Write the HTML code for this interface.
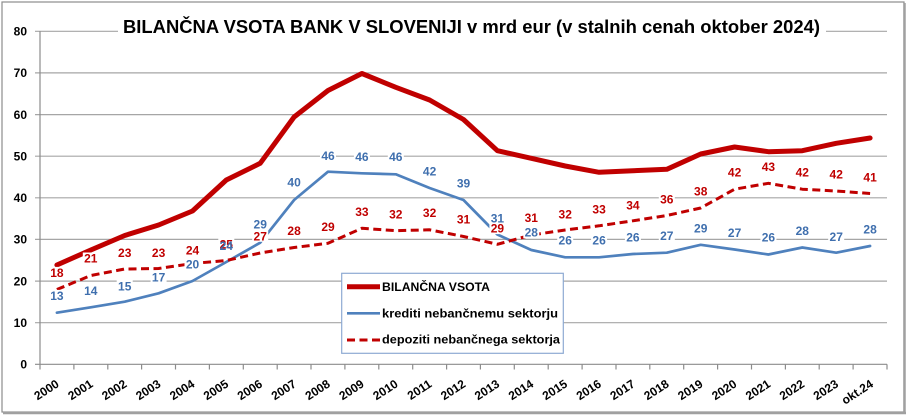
<!DOCTYPE html>
<html><head><meta charset="utf-8">
<style>
html,body{margin:0;padding:0;background:#fff;}
svg{display:block;}
text{font-family:"Liberation Sans",Arial,sans-serif;font-weight:bold;}
</style></head>
<body>
<svg width="908" height="418" viewBox="0 0 908 418" xmlns="http://www.w3.org/2000/svg">
<rect x="0" y="0" width="908" height="418" fill="#fff"/>
<!-- frame -->
<rect x="2" y="2" width="902" height="410" fill="#fff" stroke="#8c8c8c" stroke-width="1.2"/>
<line x1="904.5" y1="3" x2="904.5" y2="414" stroke="#a0a0a0" stroke-width="2.5"/>
<line x1="3" y1="413" x2="906" y2="413" stroke="#a0a0a0" stroke-width="2.5"/>

<!-- gridlines -->
<g stroke="#a6a6a6" stroke-width="1.2">
<line x1="35" y1="31.3" x2="887" y2="31.3"/>
<line x1="35" y1="72.9" x2="887" y2="72.9"/>
<line x1="35" y1="114.6" x2="887" y2="114.6"/>
<line x1="35" y1="156.2" x2="887" y2="156.2"/>
<line x1="35" y1="197.8" x2="887" y2="197.8"/>
<line x1="35" y1="239.4" x2="887" y2="239.4"/>
<line x1="35" y1="281.1" x2="887" y2="281.1"/>
<line x1="35" y1="322.7" x2="887" y2="322.7"/>
</g>
<!-- axes -->
<g stroke="#8c8c8c" stroke-width="1.2">
<line x1="40" y1="31.3" x2="40" y2="364.3"/>
<line x1="35" y1="364.3" x2="887" y2="364.3"/>
<line x1="40" y1="364.3" x2="40" y2="369.5"/>
<line x1="73.9" y1="364.3" x2="73.9" y2="369.5"/>
<line x1="107.8" y1="364.3" x2="107.8" y2="369.5"/>
<line x1="141.6" y1="364.3" x2="141.6" y2="369.5"/>
<line x1="175.5" y1="364.3" x2="175.5" y2="369.5"/>
<line x1="209.4" y1="364.3" x2="209.4" y2="369.5"/>
<line x1="243.3" y1="364.3" x2="243.3" y2="369.5"/>
<line x1="277.2" y1="364.3" x2="277.2" y2="369.5"/>
<line x1="311" y1="364.3" x2="311" y2="369.5"/>
<line x1="344.9" y1="364.3" x2="344.9" y2="369.5"/>
<line x1="378.8" y1="364.3" x2="378.8" y2="369.5"/>
<line x1="412.7" y1="364.3" x2="412.7" y2="369.5"/>
<line x1="446.6" y1="364.3" x2="446.6" y2="369.5"/>
<line x1="480.4" y1="364.3" x2="480.4" y2="369.5"/>
<line x1="514.3" y1="364.3" x2="514.3" y2="369.5"/>
<line x1="548.2" y1="364.3" x2="548.2" y2="369.5"/>
<line x1="582.1" y1="364.3" x2="582.1" y2="369.5"/>
<line x1="616" y1="364.3" x2="616" y2="369.5"/>
<line x1="649.8" y1="364.3" x2="649.8" y2="369.5"/>
<line x1="683.7" y1="364.3" x2="683.7" y2="369.5"/>
<line x1="717.6" y1="364.3" x2="717.6" y2="369.5"/>
<line x1="751.5" y1="364.3" x2="751.5" y2="369.5"/>
<line x1="785.4" y1="364.3" x2="785.4" y2="369.5"/>
<line x1="819.2" y1="364.3" x2="819.2" y2="369.5"/>
<line x1="853.1" y1="364.3" x2="853.1" y2="369.5"/>
<line x1="887" y1="364.3" x2="887" y2="369.5"/>
</g>

<!-- y labels -->
<g font-size="12" fill="#000" text-anchor="end">
<text x="27" y="35.6">80</text>
<text x="27" y="77.2">70</text>
<text x="27" y="118.9">60</text>
<text x="27" y="160.5">50</text>
<text x="27" y="202.1">40</text>
<text x="27" y="243.7">30</text>
<text x="27" y="285.4">20</text>
<text x="27" y="327">10</text>
<text x="27" y="368.6">0</text>
</g>

<!-- x labels -->
<g font-size="12" fill="#000" text-anchor="end">
<text x="59.9" y="386" transform="rotate(-33 59.9 386)">2000</text>
<text x="93.8" y="386" transform="rotate(-33 93.8 386)">2001</text>
<text x="127.7" y="386" transform="rotate(-33 127.7 386)">2002</text>
<text x="161.6" y="386" transform="rotate(-33 161.6 386)">2003</text>
<text x="195.5" y="386" transform="rotate(-33 195.5 386)">2004</text>
<text x="229.3" y="386" transform="rotate(-33 229.3 386)">2005</text>
<text x="263.2" y="386" transform="rotate(-33 263.2 386)">2006</text>
<text x="297.1" y="386" transform="rotate(-33 297.1 386)">2007</text>
<text x="331" y="386" transform="rotate(-33 331 386)">2008</text>
<text x="364.9" y="386" transform="rotate(-33 364.9 386)">2009</text>
<text x="398.8" y="386" transform="rotate(-33 398.8 386)">2010</text>
<text x="432.6" y="386" transform="rotate(-33 432.6 386)">2011</text>
<text x="466.5" y="386" transform="rotate(-33 466.5 386)">2012</text>
<text x="500.4" y="386" transform="rotate(-33 500.4 386)">2013</text>
<text x="534.3" y="386" transform="rotate(-33 534.3 386)">2014</text>
<text x="568.2" y="386" transform="rotate(-33 568.2 386)">2015</text>
<text x="602.1" y="386" transform="rotate(-33 602.1 386)">2016</text>
<text x="635.9" y="386" transform="rotate(-33 635.9 386)">2017</text>
<text x="669.8" y="386" transform="rotate(-33 669.8 386)">2018</text>
<text x="703.7" y="386" transform="rotate(-33 703.7 386)">2019</text>
<text x="737.6" y="386" transform="rotate(-33 737.6 386)">2020</text>
<text x="771.4" y="386" transform="rotate(-33 771.4 386)">2021</text>
<text x="805.3" y="386" transform="rotate(-33 805.3 386)">2022</text>
<text x="839.2" y="386" transform="rotate(-33 839.2 386)">2023</text>
<text x="874.1" y="386" transform="rotate(-33 874.1 386)">okt.24</text>
</g>

<!-- series -->
<polyline fill="none" stroke="#4F81BD" stroke-width="2.7" stroke-linejoin="round" stroke-linecap="round"
points="56.9,312.7 90.8,307.3 124.7,301.7 158.6,293.3 192.5,281 226.3,262 260.2,242.7 294.1,200 328,171.7 361.9,173.3 395.8,174.3 429.6,188 463.5,200 497.4,234.5 531.3,250 565.2,257.3 599.1,257.3 632.9,254 666.8,252.7 700.7,244.8 734.6,249.5 768.4,254.5 802.3,247.5 836.2,252.7 870.1,246"/>
<polyline fill="none" stroke="#C00000" stroke-width="3" stroke-dasharray="8 4.5" stroke-linejoin="round"
points="56.9,289.5 90.8,275.5 124.7,269 158.6,268.5 192.5,263.5 226.3,260.5 260.2,253 294.1,247.5 328,243.3 361.9,228.3 395.8,230.7 429.6,229.8 463.5,236.5 497.4,244.3 531.3,235 565.2,230 599.1,225.8 632.9,220.8 666.8,215.5 700.7,208 734.6,189.2 768.4,183.3 802.3,189.2 836.2,191 870.1,193.5"/>
<polyline fill="none" stroke="#C00000" stroke-width="5" stroke-linejoin="round" stroke-linecap="round"
points="56.9,265 90.8,250 124.7,235.5 158.6,225 192.5,211 226.3,180 260.2,163.3 294.1,117 328,90.5 361.9,73.5 395.8,87.3 429.6,100 463.5,119.5 497.4,150.7 531.3,158.3 565.2,166 599.1,172.3 632.9,170.7 666.8,169.3 700.7,154 734.6,147 768.4,151.7 802.3,150.7 836.2,143.3 870.1,138"/>

<!-- label backgrounds -->
<g fill="#fff">
<rect x="48.9" y="266.9" width="16" height="11.6"/>
<rect x="82.8" y="252.5" width="16" height="11.6"/>
<rect x="116.7" y="246.9" width="16" height="11.6"/>
<rect x="150.6" y="246.9" width="16" height="11.6"/>
<rect x="184.5" y="244.2" width="16" height="11.6"/>
<rect x="218.3" y="238.2" width="16" height="11.6"/>
<rect x="252.2" y="230.2" width="16" height="11.6"/>
<rect x="286.1" y="224.9" width="16" height="11.6"/>
<rect x="320" y="220.9" width="16" height="11.6"/>
<rect x="353.9" y="205.9" width="16" height="11.6"/>
<rect x="387.8" y="208.2" width="16" height="11.6"/>
<rect x="421.6" y="206.9" width="16" height="11.6"/>
<rect x="455.5" y="213.5" width="16" height="11.6"/>
<rect x="489.4" y="222.5" width="16" height="11.6"/>
<rect x="523.3" y="211.9" width="16" height="11.6"/>
<rect x="557.2" y="208.2" width="16" height="11.6"/>
<rect x="591.1" y="203.2" width="16" height="11.6"/>
<rect x="624.9" y="199.2" width="16" height="11.6"/>
<rect x="658.8" y="193.5" width="16" height="11.6"/>
<rect x="692.7" y="185.2" width="16" height="11.6"/>
<rect x="726.6" y="166.5" width="16" height="11.6"/>
<rect x="760.4" y="160.9" width="16" height="11.6"/>
<rect x="794.3" y="166.5" width="16" height="11.6"/>
<rect x="828.2" y="168.5" width="16" height="11.6"/>
<rect x="862.1" y="171.5" width="16" height="11.6"/>

<rect x="48.9" y="289.9" width="16" height="11.6"/>
<rect x="82.8" y="284.9" width="16" height="11.6"/>
<rect x="116.7" y="280.2" width="16" height="11.6"/>
<rect x="150.6" y="271.2" width="16" height="11.6"/>
<rect x="184.5" y="258.2" width="16" height="11.6"/>
<rect x="218.3" y="239.9" width="16" height="11.6"/>
<rect x="252.2" y="218.2" width="16" height="11.6"/>
<rect x="286.1" y="176.5" width="16" height="11.6"/>
<rect x="320" y="149.9" width="16" height="11.6"/>
<rect x="353.9" y="150.9" width="16" height="11.6"/>
<rect x="387.8" y="150.9" width="16" height="11.6"/>
<rect x="421.6" y="165.2" width="16" height="11.6"/>
<rect x="455.5" y="177.5" width="16" height="11.6"/>
<rect x="489.4" y="212.5" width="16" height="11.6"/>
<rect x="523.3" y="226.5" width="16" height="11.6"/>
<rect x="557.2" y="234.2" width="16" height="11.6"/>
<rect x="591.1" y="234.2" width="16" height="11.6"/>
<rect x="624.9" y="231.5" width="16" height="11.6"/>
<rect x="658.8" y="229.9" width="16" height="11.6"/>
<rect x="692.7" y="222.5" width="16" height="11.6"/>
<rect x="726.6" y="226.9" width="16" height="11.6"/>
<rect x="760.4" y="231.5" width="16" height="11.6"/>
<rect x="794.3" y="224.9" width="16" height="11.6"/>
<rect x="828.2" y="230.9" width="16" height="11.6"/>
<rect x="862.1" y="223.2" width="16" height="11.6"/>
</g>

<!-- depoziti labels -->
<g font-size="12" fill="#C00000" text-anchor="middle">
<text x="56.9" y="277">18</text>
<text x="90.8" y="262.6">21</text>
<text x="124.7" y="257">23</text>
<text x="158.6" y="257">23</text>
<text x="192.5" y="254.3">24</text>
<text x="226.3" y="248.3">25</text>
<text x="260.2" y="240.3">27</text>
<text x="294.1" y="235">28</text>
<text x="328" y="231">29</text>
<text x="361.9" y="216">33</text>
<text x="395.8" y="218.3">32</text>
<text x="429.6" y="217">32</text>
<text x="463.5" y="223.6">31</text>
<text x="497.4" y="232.6">29</text>
<text x="531.3" y="222">31</text>
<text x="565.2" y="218.3">32</text>
<text x="599.1" y="213.3">33</text>
<text x="632.9" y="209.3">34</text>
<text x="666.8" y="203.6">36</text>
<text x="700.7" y="195.3">38</text>
<text x="734.6" y="176.6">42</text>
<text x="768.4" y="171">43</text>
<text x="802.3" y="176.6">42</text>
<text x="836.2" y="178.6">42</text>
<text x="870.1" y="181.6">41</text>
</g>
<!-- krediti labels -->
<g font-size="12" fill="#3F6FAE" text-anchor="middle">
<text x="56.9" y="300">13</text>
<text x="90.8" y="295">14</text>
<text x="124.7" y="290.3">15</text>
<text x="158.6" y="281.3">17</text>
<text x="192.5" y="268.3">20</text>
<text x="226.3" y="250">24</text>
<text x="260.2" y="228.3">29</text>
<text x="294.1" y="186.6">40</text>
<text x="328" y="160">46</text>
<text x="361.9" y="161">46</text>
<text x="395.8" y="161">46</text>
<text x="429.6" y="175.3">42</text>
<text x="463.5" y="187.6">39</text>
<text x="497.4" y="222.6">31</text>
<text x="531.3" y="236.6">28</text>
<text x="565.2" y="244.3">26</text>
<text x="599.1" y="244.3">26</text>
<text x="632.9" y="241.6">26</text>
<text x="666.8" y="240">27</text>
<text x="700.7" y="232.6">29</text>
<text x="734.6" y="237">27</text>
<text x="768.4" y="241.6">26</text>
<text x="802.3" y="235">28</text>
<text x="836.2" y="241">27</text>
<text x="870.1" y="233.3">28</text>
</g>

<!-- title -->
<rect x="118" y="14" width="708" height="32" fill="#fff"/>
<text x="123" y="33" font-size="18.5" fill="#000" textLength="697" lengthAdjust="spacingAndGlyphs">BILANČNA VSOTA BANK V SLOVENIJI v mrd eur (v stalnih cenah oktober 2024)</text>

<!-- legend -->
<rect x="341.7" y="273.3" width="221.6" height="80" fill="#fff" stroke="#8EAAD3" stroke-width="1.2"/>
<line x1="347" y1="286.7" x2="380" y2="286.7" stroke="#C00000" stroke-width="5"/>
<line x1="347" y1="313.3" x2="380" y2="313.3" stroke="#4F81BD" stroke-width="2.7"/>
<line x1="347" y1="340" x2="380" y2="340" stroke="#C00000" stroke-width="3" stroke-dasharray="8 4.5"/>
<g font-size="12" fill="#000">
<text x="382" y="291" textLength="108" lengthAdjust="spacingAndGlyphs">BILANČNA VSOTA</text>
<text x="382" y="317.5" textLength="176" lengthAdjust="spacingAndGlyphs">krediti nebančnemu sektorju</text>
<text x="382" y="343.5" textLength="178" lengthAdjust="spacingAndGlyphs">depoziti nebančnega sektorja</text>
</g>
</svg>
</body></html>
